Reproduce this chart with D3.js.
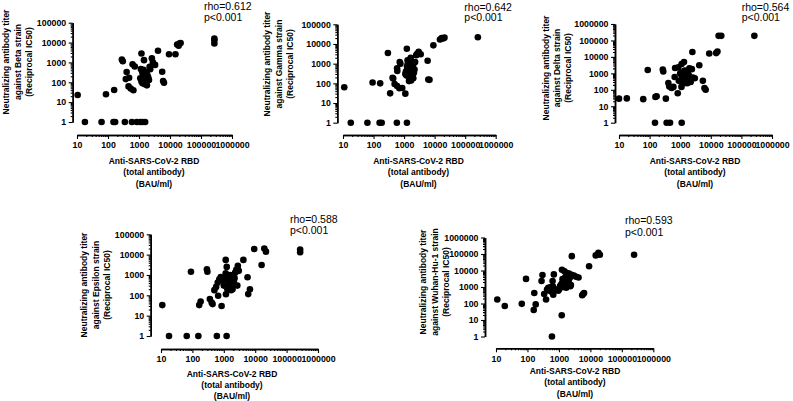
<!DOCTYPE html>
<html><head><meta charset="utf-8">
<script src="https://cdn.jsdelivr.net/npm/d3@7"></script>
<style>body{margin:0;background:#fff;} svg{display:block;}</style>
</head><body>
<svg id="chart" width="793" height="401"></svg>
<script>
// ---------------- DATA ----------------
const strains = ["Beta", "Gamma", "Delta", "Epsilon", "Wuhan-Hu-1"];
const rhoValues = ["0.612", "0.642", "0.564", "0.588", "0.593"];
const pValueText = "p<0.001";
const xTickLabels = ["10", "100", "1000", "10000", "100000", "1000000"];
const yTickLabels5 = ["1", "10", "100", "1000", "10000", "100000"];
const yTickLabels6 = ["1", "10", "100", "1000", "10000", "100000", "1000000"];
const xTitleLines = ["Anti-SARS-CoV-2 RBD", "(total antibody)", "(BAU/ml)"];

// [anti-RBD BAU/ml, reciprocal IC50]
const betaPoints = [
  [18,1],[62,1],[150,1],[170,1],[350,1],[590,1],[850,1],[1100,1],[1300,1],[1580,1],
  [10.5,23],[86,25],[158,41],[280,1400],[300,1150],[400,330],[375,145],[480,170],[620,800],[730,620],
  [460,62],[540,48],[660,40],[1200,2800],[1450,1300],
  [1150,460],[1250,380],[1300,300],[1350,240],[1400,200],[1450,170],[1500,150],[1250,140],[1200,110],
  [1600,120],[1700,95],[1550,80],[1800,70],[1650,250],[1750,320],[1900,210],[2000,170],[2100,130],
  [1400,420],[2200,600],[2300,450],[1300,90],[1100,160],
  [2600,1600],[2800,1000],[3300,750],[4100,3900],[5600,340],[6000,115],[6400,95],[9300,2600],
  [15000,2600],[17000,8000],[19000,7000],[20000,9000],[22000,9500],[270000,16000],[270000,13000],[270000,9000]
];
const gammaPoints = [
  [18,1],[63,1],[158,1],[185,1],[580,1],[1240,1],
  [11,63],[93,110],[165,100],[295,3500],[350,31],[420,190],[440,175],[490,92],[590,73],[700,56],[870,58],
  [1100,30],[720,1200],[760,1000],[590,580],[600,420],[1230,5700],
  [1100,300],[1150,400],[1200,250],[1250,700],[1300,900],[1350,550],[1400,350],[1450,200],[1500,150],
  [1550,1100],[1600,1500],[1650,2000],[1700,800],[1750,600],[1800,450],[1850,300],[1900,250],[2000,180],
  [1450,130],[1700,140],[2100,350],[2200,500],[2300,1200],[2500,2700],[2700,3200],[3000,4000],[3500,3000],
  [2000,900],[1300,1500],
  [5900,1400],[6200,155],[6800,150],[9100,8500],[15000,17000],[17000,20000],[19000,19000],[21000,21000],[260000,22000]
];
const deltaPoints = [
  [150,1],[360,1],[465,1],[1120,1],
  [10,29],[18,30],[62,27],[155,37],[170,40],[340,29],[87,1600],[270,1700],[280,1300],[410,260],[440,160],
  [520,130],[600,150],[660,600],[830,62],[1100,150],[680,2100],[870,2300],[1110,3700],[1330,4900],
  [2500,20000],[4200,3100],[8900,16000],[15000,17000],[16500,21000],[18000,190000],[22000,190000],[265000,190000],
  [5500,350],[6200,130],[6800,100],
  [1000,1000],[1100,800],[1150,600],[1200,450],[1250,350],[1300,1200],[1400,900],[1500,700],[1550,500],
  [1600,400],[1700,1100],[1800,1500],[1900,800],[2000,600],[2100,450],[2200,300],[2400,1800],[2600,550],
  [1350,250],[1700,250],[900,350],[3000,500],[1400,1500],[2000,2000],[1200,300]
];
const epsilonPoints = [
  [18,1],[66,1],[155,1],[600,1],[1230,1],
  [11,33],[90,1450],[290,1900],[300,1450],[165,33],[183,49],[360,66],[410,44],[440,37],[660,96],[850,30],
  [500,180],[570,260],[640,430],[720,610],[1150,5500],[1240,2500],[1150,1200],[1170,112],[4200,5500],
  [5700,770],[6800,200],[6000,115],[9300,19000],[16000,3100],[19500,20000],[22000,14000],[270000,18000],[270000,13000],
  [1250,900],[1300,700],[1350,550],[1400,400],[1450,300],[1500,250],[1550,800],[1600,1000],[1650,600],
  [1700,450],[1800,350],[1900,200],[2000,300],[2100,500],[2200,700],[2300,1300],[2500,1800],[2800,2800],
  [3000,1600],[2700,300],[1300,200],[1700,180],[900,550],[800,800],[1000,300]
];
const wuhanPoints = [
  [600,1],
  [11,174],[19,70],[66,95],[90,3100],[165,430],[158,40],[183,88],[280,2300],[300,5300],[340,375],[390,174],
  [420,700],[460,900],[500,600],[550,1000],[600,500],[630,2300],[690,5800],[650,1070],[660,345],[1230,19.5],
  [2570,74000],[5500,315],[5900,375],[6300,430],[9100,18000],[14800,82000],[18000,117000],[20000,90000],[245000,90000],
  [850,700],[950,600],[1050,800],[1100,1200],[1200,1500],[1300,3000],[1350,2000],[1400,1000],[1500,1300],
  [1600,4000],[1700,2500],[1800,1800],[1900,1400],[2000,2200],[2100,1600],[2200,3500],[2300,1100],
  [1250,11000],[1500,9000],[1800,7000],[2100,6500],[2500,5500],[3000,5000],[3500,4200],[4200,3800],
  [1700,900],[2400,1300],[1000,700]
];

// ---------------- LAYOUT ----------------
const FONT = "Arial, 'Liberation Sans', Helvetica, sans-serif";
const panels = [
  {pts: betaPoints, yLabels: yTickLabels5, yAxisX: 72.7, xRange: [77, 232], yRange: [122, 22.7], xAxisY: 135,
   yTitleX: [6, 17.5, 29], yTitleCy: 62, rho: [204, 10, 20.5], xTitleCx: 154, xTitleY: [163.5, 175, 186.5]},
  {pts: gammaPoints, yLabels: yTickLabels5, yAxisX: 337.3, xRange: [343, 495.7], yRange: [122.7, 24.3], xAxisY: 135,
   yTitleX: [267, 278.5, 290], yTitleCy: 64, rho: [464.3, 10.5, 21], xTitleCx: 418.5, xTitleY: [163.5, 175, 186.5]},
  {pts: deltaPoints, yLabels: yTickLabels6, yAxisX: 615, xRange: [619, 772], yRange: [122.7, 24], xAxisY: 135,
   yTitleX: [545.7, 557, 568.3], yTitleCy: 68, rho: [741.7, 10.5, 21], xTitleCx: 695, xTitleY: [163.5, 175, 186.5]},
  {pts: epsilonPoints, yLabels: yTickLabels5, yAxisX: 150.7, xRange: [161, 318], yRange: [336, 234.3], xAxisY: 349,
   yTitleX: [84, 95.5, 107], yTitleCy: 285, rho: [290, 222.5, 234], xTitleCx: 232, xTitleY: [376.5, 387.5, 398.5]},
  {pts: wuhanPoints, yLabels: yTickLabels6, yAxisX: 485, xRange: [496, 653.3], yRange: [336.5, 237.5], xAxisY: 348.3,
   yTitleX: [423, 434.5, 446], yTitleCy: 282, rho: [625, 224, 235.5], xTitleCx: 575, xTitleY: [373.5, 385, 396.5]}
];

const svg = d3.select("#chart");

function minorTicks(lo, hi) {
  const out = [];
  for (let e = Math.round(Math.log10(lo)); e < Math.round(Math.log10(hi)); e++) {
    for (let m = 2; m <= 9; m++) out.push(m * Math.pow(10, e));
  }
  return out;
}

function styleAxis(sel) {
  sel.select(".domain").attr("stroke", "#000").attr("stroke-width", 1.5);
  sel.selectAll(".tick line").attr("stroke", "#000").attr("stroke-width", 1.1);
  sel.selectAll(".tick text").attr("fill", "#000").attr("font-family", FONT)
    .attr("font-weight", "bold").attr("font-size", "8.8px");
}

panels.forEach((p, i) => {
  const yVals = p.yLabels.map(Number);
  const xVals = xTickLabels.map(Number);
  const yMax = yVals[yVals.length - 1];
  const x = d3.scaleLog().domain([xVals[0], xVals[xVals.length - 1]]).range(p.xRange);
  const y = d3.scaleLog().domain([yVals[0], yMax]).range(p.yRange);
  const g = svg.append("g");

  // y axis (minor then major)
  const yMinor = g.append("g").attr("transform", `translate(${p.yAxisX},0)`)
    .call(d3.axisLeft(y).tickValues(minorTicks(yVals[0], yMax)).tickSize(2).tickSizeOuter(0).tickFormat(""));
  styleAxis(yMinor);
  const yMajor = g.append("g").attr("transform", `translate(${p.yAxisX},0)`)
    .call(d3.axisLeft(y).tickValues(yVals).tickSize(4).tickSizeOuter(0).tickPadding(2.5)
      .tickFormat((d, k) => p.yLabels[k]));
  styleAxis(yMajor);

  // x axis (minor then major)
  const xMinor = g.append("g").attr("transform", `translate(0,${p.xAxisY})`)
    .call(d3.axisBottom(x).tickValues(minorTicks(xVals[0], xVals[xVals.length - 1])).tickSize(2).tickSizeOuter(0).tickFormat(""));
  styleAxis(xMinor);
  const xMajor = g.append("g").attr("transform", `translate(0,${p.xAxisY})`)
    .call(d3.axisBottom(x).tickValues(xVals).tickSize(4).tickSizeOuter(0).tickPadding(3)
      .tickFormat((d, k) => xTickLabels[k]));
  styleAxis(xMajor);

  // points
  g.append("g").selectAll("circle").data(p.pts).join("circle")
    .attr("cx", d => x(d[0])).attr("cy", d => y(d[1])).attr("r", 3.3).attr("fill", "#000");

  // y title
  const yLines = ["Neutralizing antibody titer", `against ${strains[i]} strain`, "(Reciprocal IC50)"];
  yLines.forEach((t, k) => {
    g.append("text").attr("transform", `translate(${p.yTitleX[k] + 3.1},${p.yTitleCy}) rotate(-90)`)
      .attr("text-anchor", "middle").attr("font-family", FONT).attr("font-weight", "bold")
      .attr("font-size", "8.5px").attr("fill", "#000").text(t);
  });

  // x title
  xTitleLines.forEach((t, k) => {
    g.append("text").attr("x", p.xTitleCx).attr("y", p.xTitleY[k])
      .attr("text-anchor", "middle").attr("font-family", FONT).attr("font-weight", "bold")
      .attr("font-size", "8.5px").attr("fill", "#000").text(t);
  });

  // stats
  g.append("text").attr("x", p.rho[0]).attr("y", p.rho[1]).attr("font-family", FONT)
    .attr("font-size", "10.5px").attr("fill", "#000").text(`rho=${rhoValues[i]}`);
  g.append("text").attr("x", p.rho[0]).attr("y", p.rho[2]).attr("font-family", FONT)
    .attr("font-size", "10.5px").attr("fill", "#000").text(pValueText);
});
</script>
</body></html>
